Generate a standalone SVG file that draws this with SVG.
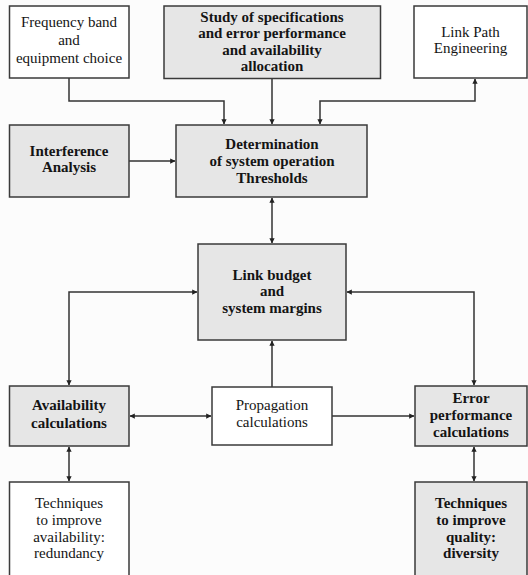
<svg xmlns="http://www.w3.org/2000/svg" width="528" height="575" viewBox="0 0 528 575">
  <style>
    .box { stroke: #3a3a3a; stroke-width: 1.5; }
    .plain { fill: #ffffff; }
    .shaded { fill: #e6e6e6; }
    text { font-family: "Liberation Serif", "Times New Roman", serif; font-size: 15px; fill: #141414; text-anchor: middle; }
    .b { font-weight: bold; }
    .wire { fill: none; stroke: #333333; stroke-width: 1.5; }
  </style>
  <defs>
    <marker id="arrow" viewBox="0 0 6 6" refX="5.5" refY="3" markerWidth="3.5" markerHeight="3.5" orient="auto-start-reverse" markerUnits="strokeWidth">
      <path d="M0,0 L6,3 L0,6 Z" fill="#222222"/>
    </marker>
  </defs>
  <rect width="528" height="575" fill="#fcfcfc"/>

  <g id="connectors">
    <!-- top row into the thresholds block -->
    <path class="wire" d="M69,78 V101 H224 V124" marker-end="url(#arrow)"/>
    <path class="wire" d="M272,79 V124" marker-end="url(#arrow)"/>
    <path class="wire" d="M475,79 V101 H320 V124" marker-start="url(#arrow)" marker-end="url(#arrow)"/>
    <path class="wire" d="M129,161 H175" marker-end="url(#arrow)"/>
    <!-- thresholds to link budget -->
    <path class="wire" d="M272,198 V243" marker-start="url(#arrow)" marker-end="url(#arrow)"/>
    <!-- link budget to side calculations -->
    <path class="wire" d="M197,292 H69 V385" marker-start="url(#arrow)" marker-end="url(#arrow)"/>
    <path class="wire" d="M347,292 H474 V385" marker-start="url(#arrow)" marker-end="url(#arrow)"/>
    <!-- propagation links -->
    <path class="wire" d="M272,387 V341" marker-end="url(#arrow)"/>
    <path class="wire" d="M130,416 H211" marker-start="url(#arrow)" marker-end="url(#arrow)"/>
    <path class="wire" d="M332,416 H414" marker-end="url(#arrow)"/>
    <!-- calculations to improvement techniques -->
    <path class="wire" d="M69,447 V481" marker-start="url(#arrow)" marker-end="url(#arrow)"/>
    <path class="wire" d="M474,447 V481" marker-start="url(#arrow)" marker-end="url(#arrow)"/>
  </g>

  <g id="freq-band">
    <rect class="box plain" x="9.5" y="6" width="119.5" height="72"/>
    <text x="69" y="27">Frequency band</text>
    <text x="69" y="45">and</text>
    <text x="69" y="63">equipment choice</text>
  </g>

  <g id="specifications">
    <rect class="box shaded" x="164" y="6" width="216.5" height="72.5"/>
    <text class="b" x="272" y="22">Study of specifications</text>
    <text class="b" x="272" y="38">and  error performance</text>
    <text class="b" x="272" y="54.5">and availability</text>
    <text class="b" x="272" y="71">allocation</text>
  </g>

  <g id="link-path">
    <rect class="box plain" x="414" y="6" width="113" height="72"/>
    <text x="470.5" y="37">Link Path</text>
    <text x="470.5" y="53">Engineering</text>
  </g>

  <g id="interference">
    <rect class="box shaded" x="9.5" y="125" width="119.5" height="72"/>
    <text class="b" x="69" y="156">Interference</text>
    <text class="b" x="69" y="172">Analysis</text>
  </g>

  <g id="thresholds">
    <rect class="box shaded" x="176" y="125" width="191" height="72"/>
    <text class="b" x="272" y="149">Determination</text>
    <text class="b" x="272" y="166">of system operation</text>
    <text class="b" x="272" y="183">Thresholds</text>
  </g>

  <g id="link-budget">
    <rect class="box shaded" x="198" y="244" width="148" height="96"/>
    <text class="b" x="272" y="280">Link budget</text>
    <text class="b" x="272" y="296">and</text>
    <text class="b" x="272" y="313">system margins</text>
  </g>

  <g id="availability">
    <rect class="box shaded" x="9.5" y="386" width="119.5" height="60"/>
    <text class="b" x="69" y="410">Availability</text>
    <text class="b" x="69" y="428">calculations</text>
  </g>

  <g id="propagation">
    <rect class="box plain" x="212" y="387" width="120" height="58"/>
    <text x="272" y="410">Propagation</text>
    <text x="272" y="427">calculations</text>
  </g>

  <g id="error-performance">
    <rect class="box shaded" x="415" y="386" width="112" height="60"/>
    <text class="b" x="471" y="403">Error</text>
    <text class="b" x="471" y="420">performance</text>
    <text class="b" x="471" y="437">calculations</text>
  </g>

  <g id="redundancy">
    <rect class="box plain" x="9.5" y="482" width="119.5" height="100"/>
    <text x="69" y="508">Techniques</text>
    <text x="69" y="525">to improve</text>
    <text x="69" y="542">availability:</text>
    <text x="69" y="558">redundancy</text>
  </g>

  <g id="diversity">
    <rect class="box shaded" x="415" y="482" width="112" height="100"/>
    <text class="b" x="471" y="508">Techniques</text>
    <text class="b" x="471" y="525">to improve</text>
    <text class="b" x="471" y="542">quality:</text>
    <text class="b" x="471" y="558">diversity</text>
  </g>
</svg>
